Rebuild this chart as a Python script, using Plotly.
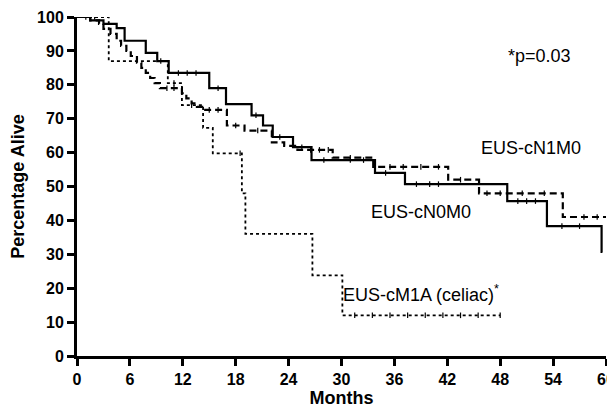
import plotly.graph_objects as go

# Kaplan-Meier step data (months, percentage alive)
n0_t = [0, 1.5, 3.0, 4.5, 5.4, 7.8, 9.1, 10.4, 15.0, 16.9, 19.8, 21.1, 22.2, 24.5, 26.6, 33.8, 37.2, 48.8, 53.3, 59.5, 59.6]
n0_s = [100, 99, 98, 96.7, 93, 89.4, 87, 83.5, 79, 74.3, 71, 68, 64.6, 61.6, 57.8, 54, 50.7, 45.7, 38.3, 30.7, 30.7]
n0_cens_t = [9.5, 11.5, 12.5, 13.5, 16.0, 20.3, 23.0, 25.5, 28.0, 31.0, 32.5, 35.0, 38.5, 40.0, 41.0, 50.0, 51.0, 52.0, 55.0, 57.0]

n1_t = [0, 1.5, 2.5, 3.0, 3.8, 4.5, 5.0, 5.6, 6.1, 6.8, 7.3, 7.8, 8.3, 8.8, 9.4, 11.9, 12.4, 13.0, 13.6, 14.2, 17.0, 19.0, 22.1, 23.5, 25.0, 29.0, 33.6, 42.1, 45.6, 55.1, 60]
n1_s = [100, 99, 98, 96.5, 95, 93, 91.5, 90, 88.5, 86.5, 85, 83.5, 82, 80.5, 79, 77.5, 76, 74.5, 73.5, 72.6, 68, 66.5, 63, 62, 60.8, 58.5, 55.8, 52, 48, 41, 41]
n1_cens_t = [10.2, 11.0, 15.0, 16.0, 18.0, 20.5, 26.5, 27.5, 28.5, 31.0, 35.5, 37.0, 39.0, 41.0, 43.5, 46.5, 48.0, 50.5, 53.0, 57.5, 59.0]

m1_t = [0, 3.6, 10.3, 11.9, 14.3, 15.4, 18.7, 19.1, 26.7, 30.1, 48.0]
m1_s = [100, 87, 80.5, 74, 67.3, 59.8, 48, 36, 23.8, 12, 12]
m1_cens_t = [1.0, 2.0, 11.0, 13.0, 18.5, 31.5, 33.5, 35.5, 37.5, 39.5, 41.5, 43.5, 45.5, 48.0]

x_ticks = [0, 6, 12, 18, 24, 30, 36, 42, 48, 54, 60]
y_ticks = [0, 10, 20, 30, 40, 50, 60, 70, 80, 90, 100]


def step_value(ts, ss, t):
    v = ss[0]
    for ti, si in zip(ts, ss):
        if ti <= t:
            v = si
    return v


fig = go.Figure()

series = [
    (n0_t, n0_s, n0_cens_t, dict(color="black", width=2.2, dash="solid")),
    (n1_t, n1_s, n1_cens_t, dict(color="black", width=2.2, dash="7px,4px")),
    (m1_t, m1_s, m1_cens_t, dict(color="black", width=1.8, dash="3px,3px")),
]

for ts, ss, cts, ln in series:
    fig.add_trace(go.Scatter(x=ts, y=ss, mode="lines", line=dict(shape="hv", **ln),
                             showlegend=False, hoverinfo="skip", cliponaxis=False))
    fig.add_trace(go.Scatter(x=cts, y=[step_value(ts, ss, t) for t in cts], mode="markers",
                             marker=dict(symbol="line-ns", size=4,
                                         line=dict(color="black", width=1.2)),
                             showlegend=False, hoverinfo="skip"))

ann_font = dict(family="Arial, Liberation Sans", size=18, color="black")
fig.add_annotation(x=52.5, y=88.5, text="*p=0.03", showarrow=False, font=ann_font)
fig.add_annotation(x=51.5, y=61.5, text="EUS-cN1M0", showarrow=False, font=ann_font)
fig.add_annotation(x=39.0, y=42.5, text="EUS-cN0M0", showarrow=False, font=ann_font)
fig.add_annotation(x=39.0, y=18.5, text="EUS-cM1A (celiac)<sup>*</sup>", showarrow=False, font=ann_font)

axis_font = dict(family="Arial, Liberation Sans", size=16, color="black", weight="bold")
title_font = dict(family="Arial, Liberation Sans", size=18, color="black", weight="bold")

fig.update_xaxes(range=[0, 60], tickvals=x_ticks, ticktext=[str(v) for v in x_ticks],
                 showline=True, linecolor="black", linewidth=3, ticks="outside",
                 ticklen=7, tickwidth=2.5, tickcolor="black", showgrid=False, zeroline=False,
                 tickfont=axis_font, automargin=False,
                 title=dict(text="Months", font=title_font, standoff=4))
fig.update_yaxes(range=[0, 100], tickvals=y_ticks, ticktext=[str(v) for v in y_ticks],
                 showline=True, linecolor="black", linewidth=3, ticks="outside",
                 ticklen=7, tickwidth=2.5, tickcolor="black", showgrid=False, zeroline=False,
                 tickfont=axis_font, automargin=False,
                 title=dict(text="Percentage Alive", font=title_font, standoff=10))

# page body has an 8px margin, so the figure is sized to fit the 615x409 window
fig.update_layout(width=607, height=401, margin=dict(l=69, r=9, t=9, b=53),
                  plot_bgcolor="white", paper_bgcolor="white")

fig.write_html("out.html")
